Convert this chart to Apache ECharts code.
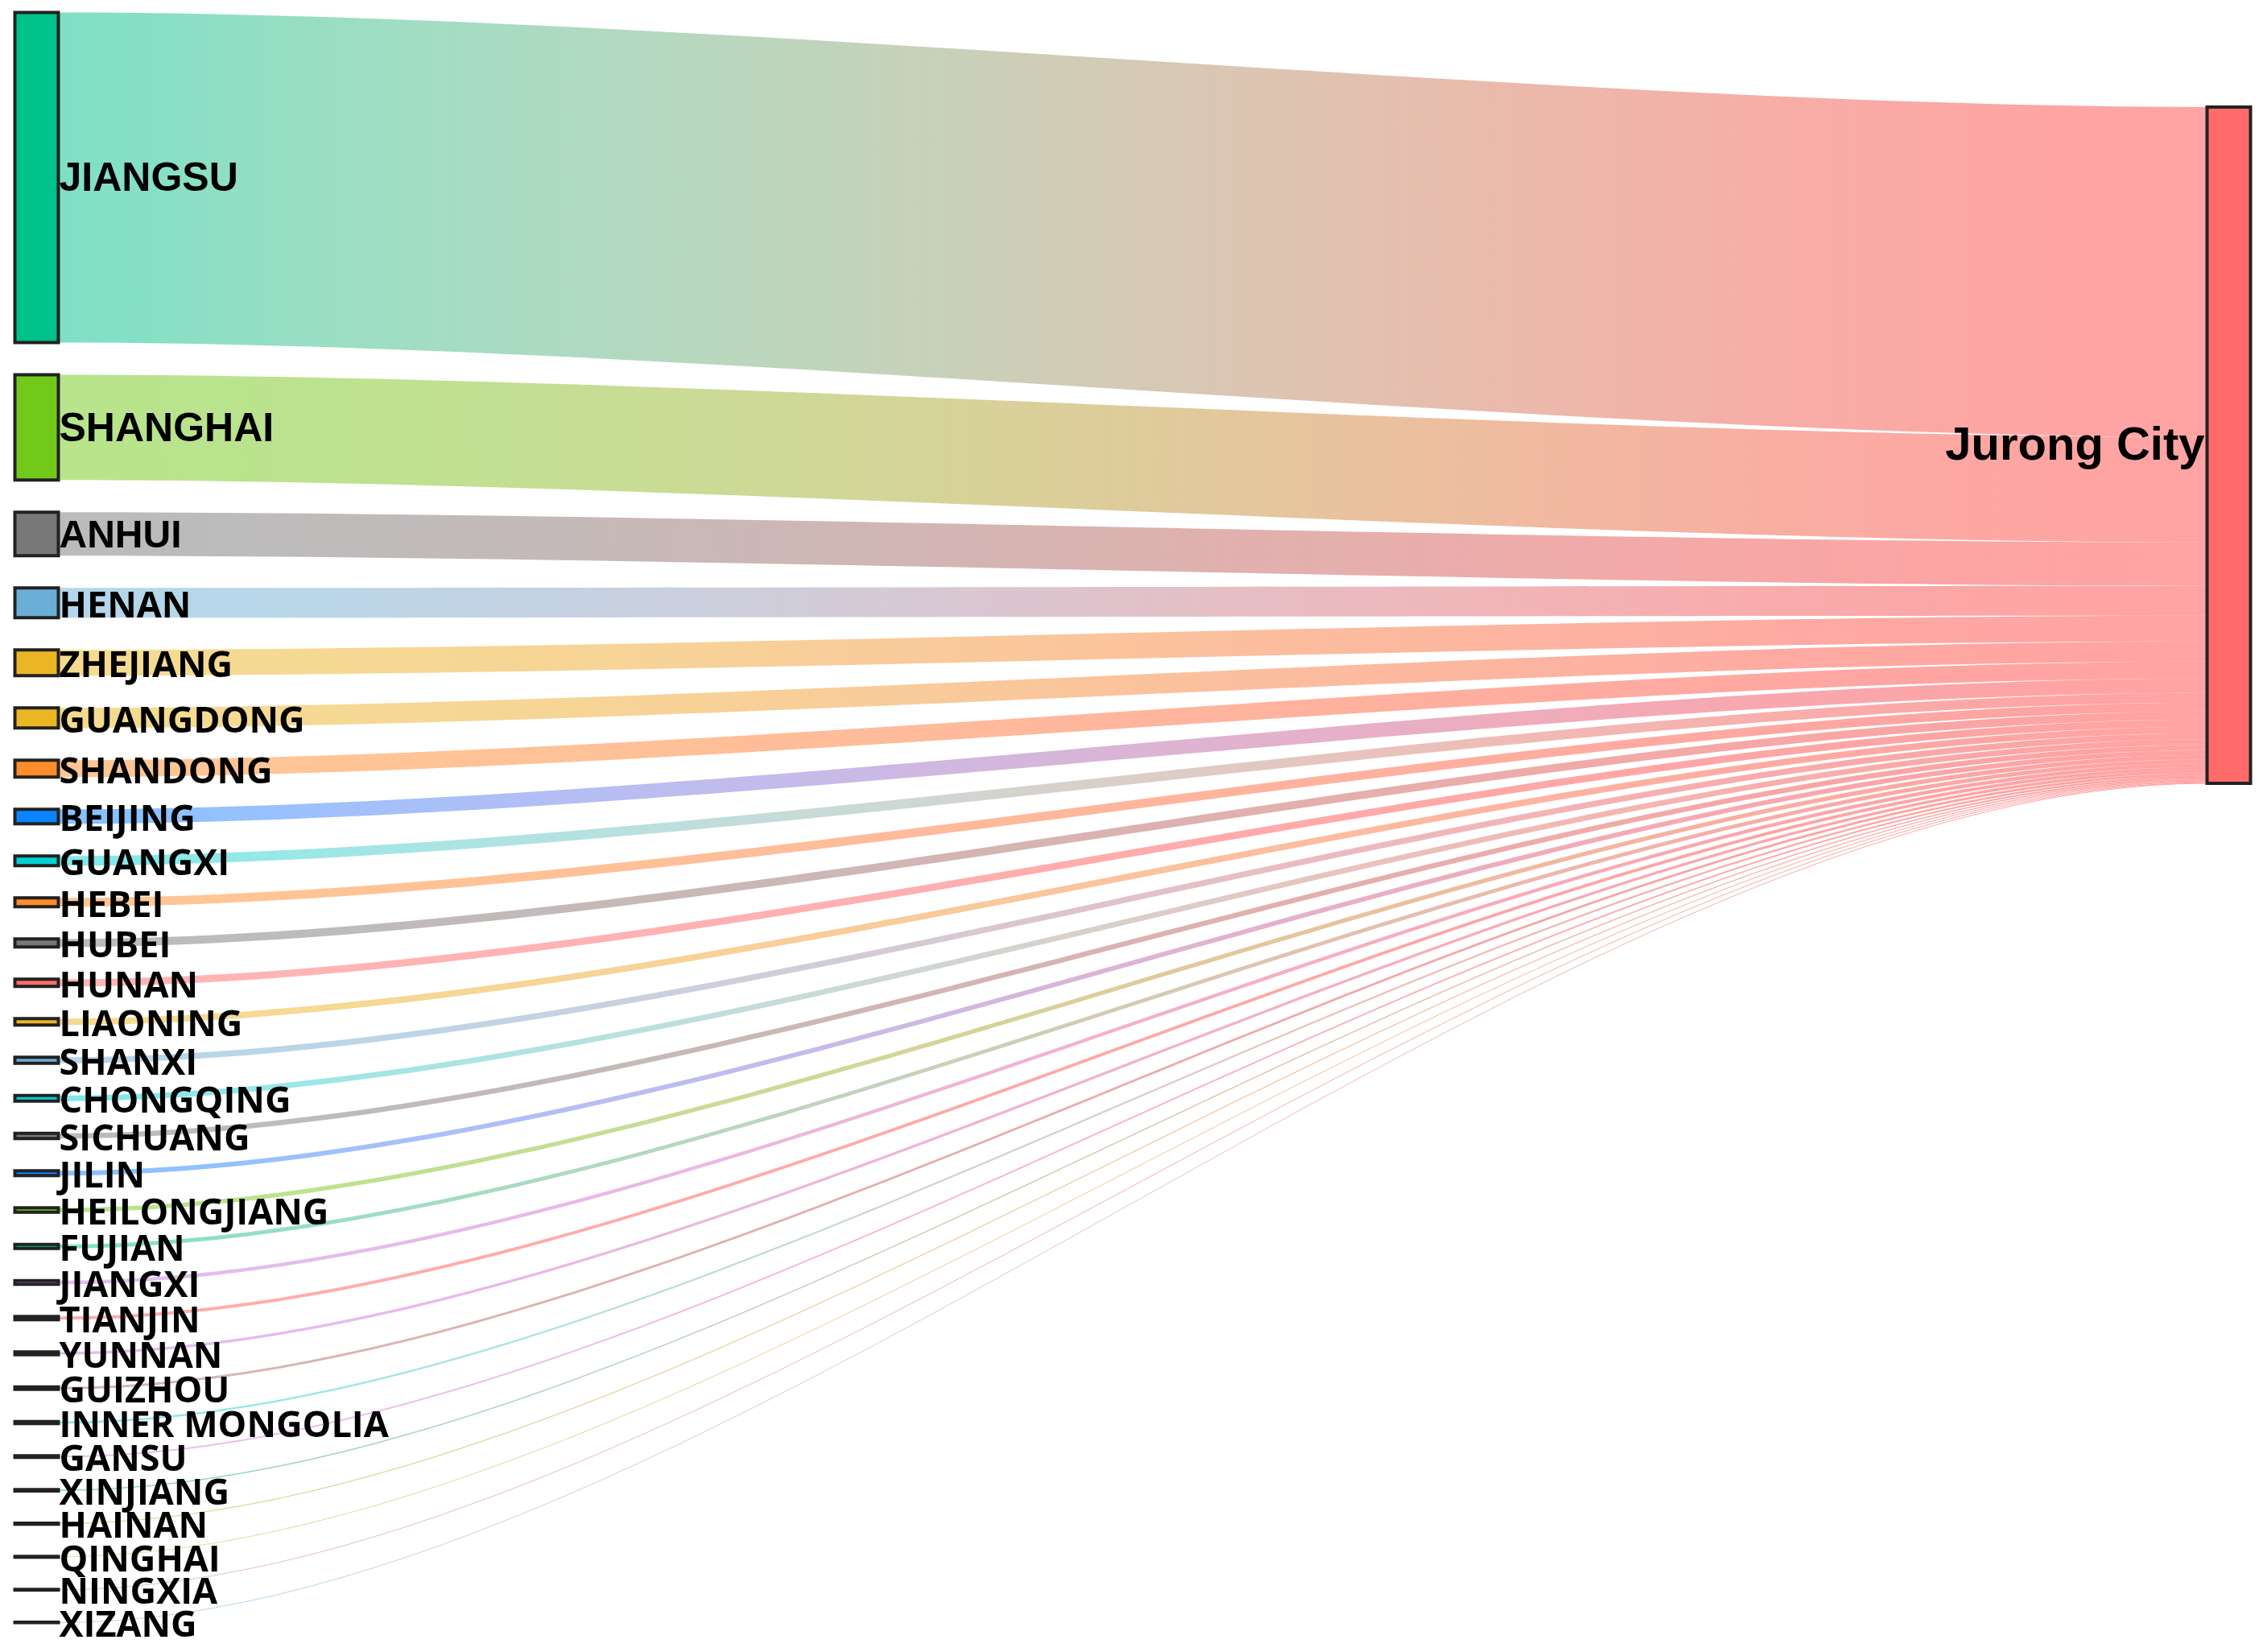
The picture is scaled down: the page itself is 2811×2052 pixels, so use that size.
<!DOCTYPE html>
<html><head><meta charset="utf-8">
<script src="https://cdn.jsdelivr.net/npm/echarts@6/dist/echarts.min.js"></script>
<style>html,body{margin:0;padding:0;background:#fff}#c{width:2811px;height:2052px}</style>
</head><body><div id="c"></div>
<script>
// ---- data ----
const targetName = 'Jurong City';
const provinces = ['JIANGSU','SHANGHAI','ANHUI','HENAN','ZHEJIANG','GUANGDONG','SHANDONG','BEIJING','GUANGXI','HEBEI','HUBEI','HUNAN','LIAONING','SHANXI','CHONGQING','SICHUANG','JILIN','HEILONGJIANG','FUJIAN','JIANGXI','TIANJIN','YUNNAN','GUIZHOU','INNER MONGOLIA','GANSU','XINJIANG','HAINAN','QINGHAI','NINGXIA','XIZANG'];
const flowValues = [410,131,54,37,32,25,21,18,12,11,10,9,8,7.5,7,6.5,6,5.5,5,4.5,4,3.5,3,2.5,2,1.6,1.3,1,0.8,0.5];
// ---- styles ----
const provinceColors = ['#00C08B','#72C91A','#787878','#6BAED6','#EBB623','#EBB623','#FF8C2A','#0A84FF','#00D2D3','#FF8C2A','#787878','#FF6B6B','#EBB623','#6BAED6','#00D2D3','#787878','#0A84FF','#72C91A','#00C08B','#C77CE0','#FF5A5A','#C77CE0','#B06A6A','#00D2D3','#D97CE0','#20B070','#BDB020','#C8B830','#C08080','#6BAED6'];
const targetColor = '#FF6B6B';
const arialNames = ['JIANGSU','SHANGHAI','ANHUI'];

// Lab colour interpolation for link gradients
function hex2rgb(h){h=h.replace('#','');return [parseInt(h.slice(0,2),16),parseInt(h.slice(2,4),16),parseInt(h.slice(4,6),16)];}
function s2l(c){c/=255;return c<=0.04045?c/12.92:Math.pow((c+0.055)/1.055,2.4);}
function l2s(c){c=c<=0.0031308?12.92*c:1.055*Math.pow(Math.max(c,0),1/2.4)-0.055;return Math.max(0,Math.min(255,Math.round(c*255)));}
function rgb2lab(rgb){
  const [r,g,b]=rgb.map(s2l);
  const x=(0.4124*r+0.3576*g+0.1805*b)/0.95047, y=(0.2126*r+0.7152*g+0.0722*b), z=(0.0193*r+0.1192*g+0.9505*b)/1.08883;
  const f=t=>t>0.008856?Math.cbrt(t):7.787*t+16/116;
  const fx=f(x),fy=f(y),fz=f(z);
  return [116*fy-16,500*(fx-fy),200*(fy-fz)];
}
function lab2rgb(lab){
  const [L,a,bb]=lab;const fy=(L+16)/116, fx=fy+a/500, fz=fy-bb/200;
  const fi=t=>t*t*t>0.008856?t*t*t:(t-16/116)/7.787;
  const x=fi(fx)*0.95047,y=fi(fy),z=fi(fz)*1.08883;
  const r=3.2406*x-1.5372*y-0.4986*z, g=-0.9689*x+1.8758*y+0.0415*z, b=0.0557*x-0.2040*y+1.0570*z;
  return [l2s(r),l2s(g),l2s(b)];
}
function labGradient(c1, c2){
  const A=rgb2lab(hex2rgb(c1)), B=rgb2lab(hex2rgb(c2));
  const stops=[]; const n=20;
  for(let k=0;k<=n;k++){
    const t=k/n;
    const u=t*t*(3-2*t);
    const rgb=lab2rgb([A[0]+(B[0]-A[0])*u, A[1]+(B[1]-A[1])*u, A[2]+(B[2]-A[2])*u]);
    const a=0.5+0.12*u;
    stops.push({offset:t, color:'rgba('+rgb[0]+','+rgb[1]+','+rgb[2]+','+a.toFixed(3)+')'});
  }
  return new echarts.graphic.LinearGradient(0,0,1,0,stops);
}

const nodes = provinces.map((p, i) => ({
  name: p,
  itemStyle: { color: provinceColors[i] },
  label: arialNames.includes(p)
    ? { fontFamily: 'Liberation Sans, Arial, sans-serif', fontSize: p === 'ANHUI' ? 48 : 50, offset: [0, 3] }
    : { fontFamily: 'Open Sans, sans-serif', fontSize: 45, offset: [0, 5] }
}));
nodes.push({
  name: targetName,
  itemStyle: { color: targetColor },
  label: { position: 'left', distance: 1, fontFamily: 'Liberation Sans, Arial, sans-serif', fontSize: 58, offset: [0, 2] }
});
const links = provinces.map((p, i) => ({
  source: p, target: targetName, value: flowValues[i],
  lineStyle: { color: labGradient(provinceColors[i], targetColor) }
}));

const chart = echarts.init(document.getElementById('c'), null, { renderer: 'canvas' });
chart.setOption({
  backgroundColor: '#ffffff',
  animation: false,
  series: [{
    type: 'sankey',
    left: 18.5, right: 15.5, top: 15.5, bottom: 36.5,
    nodeWidth: 54,
    nodeGap: 40,
    nodeAlign: 'justify',
    draggable: false,
    emphasis: { disabled: true },
    data: nodes,
    links: links,
    itemStyle: { borderColor: '#222', borderWidth: 4 },
    lineStyle: { opacity: 1, curveness: 0.3 },
    label: { show: true, position: 'right', distance: -1, color: '#000', fontWeight: 'bold', textBorderWidth: 0 }
  }]
});
</script>
</body></html>
